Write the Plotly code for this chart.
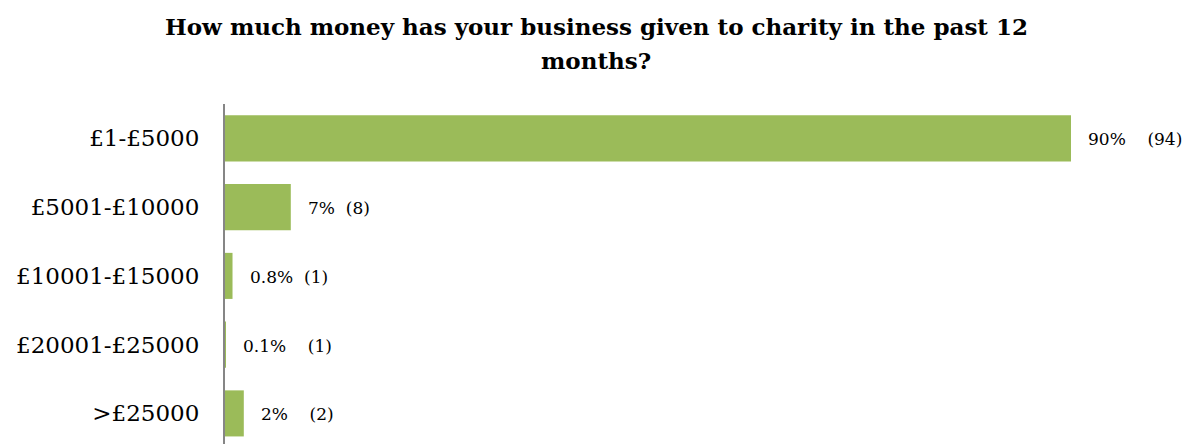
import plotly.graph_objects as go

# Survey responses: donation bands, share of businesses (%) and respondent counts
categories = ["£1-£5000", "£5001-£10000", "£10001-£15000", "£20001-£25000", ">£25000"]
percent_values = [90, 7, 0.8, 0.1, 2]
respondent_counts = [94, 8, 1, 1, 2]
percent_labels = ["90%", "7%", "0.8%", "0.1%", "2%"]

BAR_COLOR = "#9BBB59"
SERIF = "DejaVu Serif, Liberation Serif, serif"
# number of spaces between the percentage and the count in each label
label_gaps = [4, 2, 2, 4, 4]

fig = go.Figure(
    go.Bar(
        x=percent_values,
        y=categories,
        orientation="h",
        marker=dict(color=BAR_COLOR, line=dict(width=0)),
        hoverinfo="skip",
    )
)

# Value labels placed just to the right of each bar
for cat, val, pct, n, gap in zip(categories, percent_values, percent_labels,
                                 respondent_counts, label_gaps):
    fig.add_annotation(
        x=val, y=cat, xref="x", yref="y",
        text=f"{pct}{chr(160) * gap}({n})",
        showarrow=False, xanchor="left", xshift=15, yshift=-1,
        font=dict(family=SERIF, size=17, color="#000000"),
    )

# Two-line bold title, centred on the full figure width
title_lines = ["How much money has your business given to charity in the past 12", "months?"]
for line, ypos in zip(title_lines, [1.2265, 1.129]):
    fig.add_annotation(
        x=0.3947, y=ypos, xref="paper", yref="paper",
        text=f"<b>{line}</b>", showarrow=False,
        xanchor="center", yanchor="middle",
        font=dict(family=SERIF, size=23, color="#000000"),
    )

fig.update_layout(
    width=1192, height=444,
    margin=dict(l=225, r=27, t=104, b=0),
    paper_bgcolor="white", plot_bgcolor="white",
    bargap=0.33,
    showlegend=False,
    xaxis=dict(
        range=[0, 100], visible=False, showgrid=False, zeroline=False, fixedrange=True,
    ),
    yaxis=dict(
        categoryorder="array", categoryarray=categories,
        range=[4.445, -0.5],
        showline=True, linecolor="#868686", linewidth=2,
        ticks="", ticklabelstandoff=19, showgrid=False, zeroline=False,
        tickfont=dict(family=SERIF, size=23, color="#000000"),
    ),
)

fig.write_html("out.html")
